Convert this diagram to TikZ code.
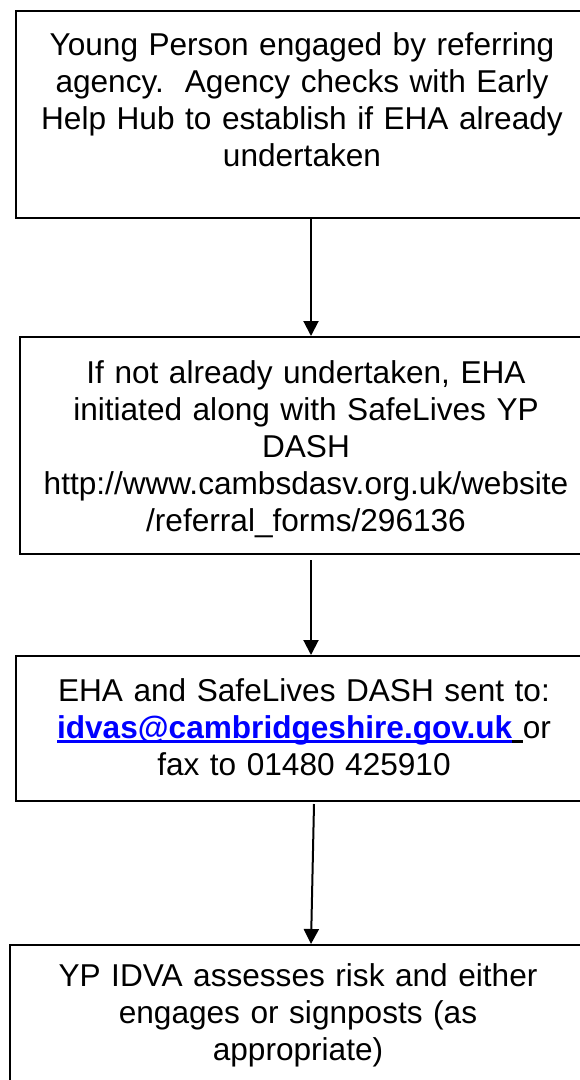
\documentclass[tikz,border=0pt]{standalone}
\usepackage{fontspec}
\setmainfont{Liberation Sans}
\usetikzlibrary{arrows.meta}

% underline drawn as a rule of chosen thickness
\newsavebox\lnkbox
\newcommand\thickul[1]{\sbox\lnkbox{#1}\rlap{\rule[-4.5pt]{\wd\lnkbox}{2.6pt}}\usebox\lnkbox}

\definecolor{linkblue}{RGB}{0,0,255}

\begin{document}
\begin{tikzpicture}[x=1pt,y=-1pt,
  stepbox/.style={draw=black, line width=2pt, rectangle, anchor=north west, inner sep=0pt},
  boxtext/.style={anchor=base, inner sep=0pt, text width=570pt, align=center,
                  font=\fontsize{31.6}{37}\selectfont},
  arr/.style={line width=2pt, -{Triangle[width=15pt,length=15pt]}}]

  \fill[white] (0,0) rectangle (580,1080);
  \useasboundingbox (0,0) rectangle (580,1080);
  \clip (0,0) rectangle (580,1080);

  % boxes (they run past the right-hand edge)
  \node[stepbox, minimum width=579pt, minimum height=207pt] (b1) at (15,10) {};
  \node[stepbox, minimum width=575pt, minimum height=217pt] (b2) at (19,336) {};
  \node[stepbox, minimum width=579pt, minimum height=145pt] (b3) at (15,655) {};
  \node[stepbox, minimum width=585pt, minimum height=200pt] (b4) at (9,944) {};

  % texts
  \node[boxtext] (t1) at (302,55) {Young Person engaged by referring\\
    agency.\ \ Agency checks with Early\\
    Help Hub to establish if EHA already\\
    undertaken};
  \node[boxtext] (t2) at (306,383) {If not already undertaken, EHA\\
    initiated along with SafeLives YP\\
    DASH\\
    http://www.cambsdasv.org.uk/website\\
    /referral\_forms/296136};
  \node[boxtext] (t3) at (304,701) {EHA and SafeLives DASH sent to:\\
    \textcolor{linkblue}{\thickul{\bfseries idvas@cambridgeshire.gov.uk}}\thickul{\ }or\\
    fax to 01480 425910};
  \node[boxtext] (t4) at (298,986) {YP IDVA assesses risk and either\\
    engages or signposts (as\\
    appropriate)};

  % connectors
  \coordinate (s1) at (311,217);
  \coordinate (s2) at (311,560);
  \coordinate (s3) at (314,804);
  \coordinate (e3) at (311,944);
  \draw[arr] (s1) -- (s1 |- b2.north);
  \draw[arr] (s2) -- (s2 |- b3.north);
  \draw[arr] (s3) -- (e3 |- b4.north);
\end{tikzpicture}
\end{document}
